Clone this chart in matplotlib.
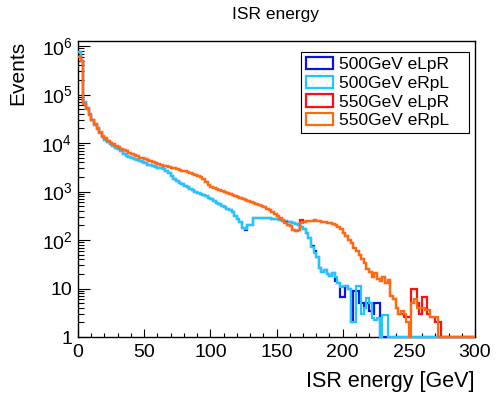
import numpy as np
import matplotlib
matplotlib.use("Agg")
import matplotlib.pyplot as plt
from matplotlib.patches import Patch
from matplotlib.ticker import FixedLocator, MultipleLocator, NullFormatter, FuncFormatter

plt.rcParams['font.family'] = ['Liberation Sans', 'DejaVu Sans']
plt.rcParams['mathtext.fontset'] = 'custom'
plt.rcParams['mathtext.rm'] = 'Liberation Sans'
plt.rcParams['mathtext.it'] = 'Liberation Sans:italic'

# ---- data: ISR energy histograms, 2 GeV bins from 0 to 300 GeV ----
bin_edges_gev = np.arange(0, 302, 2)

e500_eRpL = [
    7.5e5, 5.0e5, 7.0e4, 5.2e4, 3.9e4, 3.0e4, 2.4e4, 1.95e4, 1.6e4, 1.35e4,
    1.18e4, 1.05e4, 9.5e3, 8.7e3, 8.0e3, 7.4e3, 6.9e3, 5.8e3, 5.4e3, 5.1e3,
    4.85e3, 4.6e3, 4.4e3, 4.2e3, 4.0e3, 3.8e3, 3.6e3, 3.45e3, 3.3e3, 3.2e3,
    3.1e3, 3.0e3, 2.9e3, 2.7e3, 2.4e3, 2.1e3, 1.85e3, 1.65e3, 1.5e3, 1.4e3,
    1.3e3, 1.22e3, 1.14e3, 1.07e3, 1.0e3, 950, 900, 850, 800, 740,
    690, 640, 590, 550, 510, 475, 440, 410, 370, 320,
    270, 230, 180, 165, 200, 205, 280, 285, 290, 285,
    285, 280, 280, 275, 270, 265, 258, 250, 245, 240,
    235, 225, 215, 200, 185, 170, 140, 110, 72, 55,
    45, 26, 22, 24, 20, 18, 21, 17, 13, 10.7,
    11, 11, 10, 2, 2, 11, 11, 3, 4, 6.5,
    5, 2.5, 2.2, 2.5, 0, 2.8, 2.8, 0, 0, 0,
    0, 0, 0, 0, 0, 0, 0, 0, 0, 0,
    0, 0, 0, 0, 0, 0, 0, 0, 0, 0,
    0, 0, 0, 0, 0, 0, 0, 0, 0, 0,
]

e500_eLpR = [
    7.5e5, 5.0e5, 7.0e4, 5.2e4, 3.9e4, 3.0e4, 2.4e4, 1.95e4, 1.6e4, 1.35e4,
    1.18e4, 1.05e4, 9.5e3, 8.7e3, 8.0e3, 7.4e3, 6.9e3, 5.8e3, 5.4e3, 5.1e3,
    4.85e3, 4.6e3, 4.4e3, 4.2e3, 4.0e3, 3.8e3, 3.6e3, 3.45e3, 3.3e3, 3.2e3,
    3.1e3, 3.0e3, 2.9e3, 2.7e3, 2.4e3, 2.1e3, 1.85e3, 1.65e3, 1.5e3, 1.4e3,
    1.3e3, 1.22e3, 1.14e3, 1.07e3, 1.0e3, 950, 900, 850, 800, 740,
    690, 640, 590, 550, 510, 475, 440, 410, 370, 320,
    270, 230, 175, 160, 200, 205, 280, 285, 290, 285,
    285, 280, 280, 275, 270, 265, 258, 250, 245, 240,
    235, 225, 215, 200, 185, 170, 140, 110, 75, 58,
    45, 26, 22, 24, 20, 18, 21, 14, 13, 6.7,
    6.7, 11, 10, 2, 9, 9, 5, 5, 4, 5,
    3.5, 3, 5, 5, 0, 0, 0, 0, 0, 0,
    0, 0, 0, 0, 0, 0, 0, 0, 0, 0,
    0, 0, 0, 0, 0, 0, 0, 0, 0, 0,
    0, 0, 0, 0, 0, 0, 0, 0, 0, 0,
]

e550_eRpL = [
    6.0e5, 5.0e5, 6.5e4, 5.0e4, 3.8e4, 3.0e4, 2.5e4, 2.0e4, 1.65e4, 1.4e4,
    1.25e4, 1.12e4, 1.02e4, 9.4e3, 8.7e3, 8.1e3, 7.6e3, 7.2e3, 6.7e3, 6.3e3,
    5.9e3, 5.6e3, 5.3e3, 5.0e3, 4.8e3, 4.6e3, 4.4e3, 4.2e3, 4.0e3, 3.9e3,
    3.7e3, 3.55e3, 3.4e3, 3.3e3, 3.2e3, 3.1e3, 3.0e3, 2.9e3, 2.8e3, 2.7e3,
    2.6e3, 2.5e3, 2.4e3, 2.3e3, 2.2e3, 2.1e3, 2.0e3, 1.85e3, 1.55e3, 1.35e3,
    1.25e3, 1.2e3, 1.13e3, 1.07e3, 1.01e3, 970, 930, 890, 850, 815,
    780, 745, 710, 680, 650, 620, 590, 560, 530, 500,
    470, 440, 410, 380, 345, 315, 285, 255, 225, 200,
    190, 160, 150, 160, 225, 240, 245, 250, 245, 255,
    250, 245, 240, 230, 225, 220, 210, 200, 185, 165,
    140, 120, 100, 85, 70, 58, 48, 40, 33, 25,
    22, 17, 21, 16, 14, 17, 13, 15, 7, 6,
    4, 3, 3.5, 3, 2, 0, 5, 6, 4, 4,
    4, 3.6, 3.6, 2.6, 2.6, 2.6, 0, 0, 0, 0,
    0, 0, 0, 0, 0, 0, 0, 0, 0, 0,
]

e550_eLpR = [
    6.0e5, 5.0e5, 6.5e4, 5.0e4, 3.8e4, 3.0e4, 2.5e4, 2.0e4, 1.65e4, 1.4e4,
    1.25e4, 1.12e4, 1.02e4, 9.4e3, 8.7e3, 8.1e3, 7.6e3, 7.2e3, 6.7e3, 6.3e3,
    5.9e3, 5.6e3, 5.3e3, 5.0e3, 4.8e3, 4.6e3, 4.4e3, 4.2e3, 4.0e3, 3.9e3,
    3.7e3, 3.55e3, 3.4e3, 3.3e3, 3.2e3, 3.1e3, 3.0e3, 2.9e3, 2.8e3, 2.7e3,
    2.6e3, 2.5e3, 2.4e3, 2.3e3, 2.2e3, 2.1e3, 2.0e3, 1.85e3, 1.55e3, 1.35e3,
    1.25e3, 1.2e3, 1.13e3, 1.07e3, 1.01e3, 970, 930, 890, 850, 815,
    780, 745, 710, 680, 650, 620, 590, 560, 530, 500,
    470, 440, 410, 380, 345, 315, 285, 255, 230, 200,
    190, 160, 150, 160, 260, 240, 245, 250, 245, 255,
    250, 245, 240, 230, 225, 220, 210, 200, 185, 165,
    140, 120, 100, 85, 70, 58, 48, 40, 33, 25,
    22, 17, 21, 16, 14, 17, 13, 15, 7, 6,
    4, 3, 3, 2.6, 2.6, 2.6, 10, 10, 5, 3,
    6.7, 6.7, 3, 2.6, 2.6, 2, 2, 0, 0, 0,
    0, 0, 0, 0, 0, 0, 0, 0, 0, 0,
]

series_labels = ["500GeV eLpR", "500GeV eRpL", "550GeV eLpR", "550GeV eRpL"]
series_values = [e500_eLpR, e500_eRpL, e550_eLpR, e550_eRpL]
series_colors = ["#0a14e6", "#1ec8ff", "#ff1010", "#ff6a10"]

x_major_ticks = [0, 50, 100, 150, 200, 250, 300]
y_major_ticks = [1, 10, 1e2, 1e3, 1e4, 1e5, 1e6]

# ---- figure ----
fig = plt.figure(figsize=(4.96, 3.96), dpi=100)
ax = fig.add_axes([78 / 496, (396 - 337) / 396, 397 / 496, 296 / 396])

for vals, col in zip(series_values, series_colors):
    v = np.clip(np.asarray(vals, dtype=float), 1.0, None)
    ax.stairs(v, bin_edges_gev, baseline=None, color=col, lw=1.6,
              clip_on=False, zorder=3)

ax.set_yscale('log')
ax.set_xlim(0, 300)
ax.set_ylim(1, 1.27e6)


def ylab(v, pos):
    n = int(round(np.log10(v)))
    if n == 0:
        return "1"
    if n == 1:
        return "10"
    return r"$\mathregular{10^{%d}}$" % n


y_minor = [m * 10 ** d for d in range(0, 6) for m in range(2, 10)]
ax.yaxis.set_major_locator(FixedLocator(y_major_ticks))
ax.yaxis.set_major_formatter(FuncFormatter(ylab))
ax.yaxis.set_minor_locator(FixedLocator(y_minor))
ax.yaxis.set_minor_formatter(NullFormatter())
ax.xaxis.set_major_locator(FixedLocator(x_major_ticks))
ax.xaxis.set_minor_locator(MultipleLocator(10))

ax.tick_params(axis='both', which='both', direction='in', top=False, right=False,
               labelsize=14, width=0.8, color='black')
ax.tick_params(axis='y', which='major', length=8.5, pad=4)
ax.tick_params(axis='y', which='minor', length=4.3)
ax.tick_params(axis='x', which='major', length=6, pad=5)
ax.tick_params(axis='x', which='minor', length=3)
for s in ax.spines.values():
    s.set_linewidth(1.0)

ax.set_xlabel("ISR energy [GeV]", fontsize=15.5, loc='right', labelpad=7)
ax.set_ylabel("Events", fontsize=15, loc='top', labelpad=10)
fig.text(276 / 496, 1 - 15 / 396, "ISR energy", ha='center', va='center', fontsize=12.5)

handles = [Patch(facecolor='none', edgecolor=c, linewidth=1.6) for c in series_colors]
leg = ax.legend(handles, series_labels, loc='upper left',
                bbox_to_anchor=((301 - 78) / 397, (337 - 52) / 296, (469 - 301) / 397, 0),
                mode='expand', fontsize=12.5, frameon=True, fancybox=False,
                framealpha=1, edgecolor='black', borderaxespad=0, borderpad=0.3,
                handlelength=1.55, handleheight=0.7, handletextpad=0.35,
                labelspacing=0.2)
leg.get_frame().set_linewidth(0.8)

fig.savefig("out.png", dpi=100)
